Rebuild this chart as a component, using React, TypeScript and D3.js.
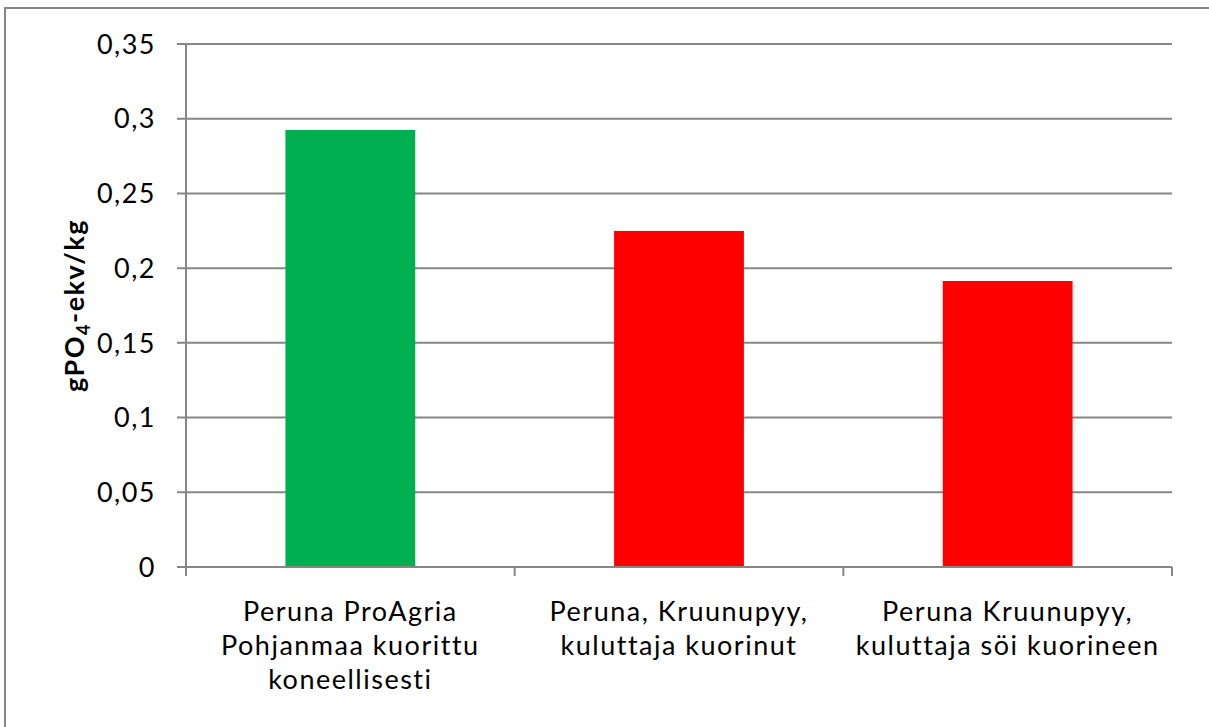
import { useEffect, useRef } from 'react'
import * as d3 from 'd3'

const categories = [
  ['Peruna ProAgria', 'Pohjanmaa kuorittu', 'koneellisesti'],
  ['Peruna, Kruunupyy,', 'kuluttaja kuorinut'],
  ['Peruna Kruunupyy,', 'kuluttaja söi kuorineen'],
]
const values = [0.2925, 0.2249, 0.1914]
const barColors = ['#00b050', '#ff0000', '#ff0000']
const yTicks = [0, 0.05, 0.1, 0.15, 0.2, 0.25, 0.3, 0.35]

const FONT = 'Lato, "Open Sans", sans-serif'
const GRAY = '#868686'

export default function App() {
  const svgRef = useRef<SVGSVGElement>(null)

  useEffect(() => {
    if (!svgRef.current) return
    const width = 1209
    const height = 727
    const margin = { top: 44, right: 37, bottom: 160, left: 186 }
    const innerWidth = width - margin.left - margin.right
    const innerHeight = height - margin.top - margin.bottom

    const svg = d3.select(svgRef.current)
    svg.selectAll('*').remove()
    svg.attr('width', width).attr('height', height)

    // outer chart frame (runs off right/bottom of the picture)
    svg.append('rect')
      .attr('x', 5).attr('y', 8)
      .attr('width', width + 20).attr('height', height + 20)
      .attr('fill', 'white')
      .attr('stroke', GRAY)
      .attr('stroke-width', 2)

    const g = svg.append('g')
      .attr('transform', `translate(${margin.left},${margin.top})`)

    const idx = categories.map((_, i) => String(i))
    const xScale = d3.scaleBand()
      .domain(idx)
      .range([0, innerWidth])
      .paddingInner(0.605)
      .paddingOuter(0.3025)

    const yScale = d3.scaleLinear()
      .domain([0, 0.35])
      .range([innerHeight, 0])

    // grid lines
    g.append('g')
      .selectAll('line')
      .data(yTicks)
      .enter()
      .append('line')
      .attr('x1', -9)
      .attr('x2', innerWidth)
      .attr('y1', d => yScale(d))
      .attr('y2', d => yScale(d))
      .attr('stroke', GRAY)
      .attr('stroke-width', 2)

    // y tick labels
    g.append('g')
      .selectAll('text')
      .data(yTicks)
      .enter()
      .append('text')
      .attr('x', -30)
      .attr('y', d => yScale(d))
      .attr('dy', '0.36em')
      .attr('text-anchor', 'end')
      .attr('font-family', FONT)
      .attr('font-size', 27)
      .attr('letter-spacing', 1.5)
      .attr('fill', '#000')
      .text(d => String(d).replace('.', ','))

    // bars
    g.selectAll('.bar')
      .data(values)
      .enter()
      .append('rect')
      .attr('class', 'bar')
      .attr('x', (_, i) => xScale(String(i)) || 0)
      .attr('width', xScale.bandwidth())
      .attr('y', d => yScale(d))
      .attr('height', d => innerHeight - yScale(d))
      .attr('fill', (_, i) => barColors[i])

    // y axis line
    g.append('line')
      .attr('x1', 0).attr('x2', 0)
      .attr('y1', 0).attr('y2', innerHeight)
      .attr('stroke', GRAY)
      .attr('stroke-width', 2)

    // x axis line + category ticks
    g.append('line')
      .attr('x1', 0).attr('x2', innerWidth)
      .attr('y1', innerHeight).attr('y2', innerHeight)
      .attr('stroke', GRAY)
      .attr('stroke-width', 2)

    const step = xScale.step()
    g.append('g')
      .selectAll('line')
      .data(d3.range(categories.length + 1))
      .enter()
      .append('line')
      .attr('x1', d => d * step)
      .attr('x2', d => d * step)
      .attr('y1', innerHeight)
      .attr('y2', innerHeight + 9)
      .attr('stroke', GRAY)
      .attr('stroke-width', 2)

    // x category labels
    categories.forEach((lines, i) => {
      const cx = (xScale(String(i)) || 0) + xScale.bandwidth() / 2
      const t = g.append('text')
        .attr('text-anchor', 'middle')
        .attr('font-family', FONT)
        .attr('font-size', 27)
        .attr('letter-spacing', 1.5)
        .attr('fill', '#000')
      lines.forEach((line, j) => {
        t.append('tspan')
          .attr('x', cx)
          .attr('y', innerHeight + 54 + j * 34)
          .text(line)
      })
    })

    // y axis title
    const title = svg.append('text')
      .attr('transform', `translate(84,${margin.top + innerHeight / 2}) rotate(-90)`)
      .attr('text-anchor', 'middle')
      .attr('font-family', FONT)
      .attr('font-size', 27)
      .attr('font-weight', 'bold')
      .attr('letter-spacing', 1.5)
      .attr('fill', '#000')
    title.append('tspan').text('gPO')
    title.append('tspan').attr('font-size', 18).attr('dy', 6).text('4')
    title.append('tspan').attr('dy', -6).text('-ekv/kg')
  }, [])

  return (
    <div style={{ position: 'fixed', left: 0, top: 0, width: 1209, height: 727, background: 'white' }}>
      <svg ref={svgRef} style={{ display: 'block' }} />
    </div>
  )
}
